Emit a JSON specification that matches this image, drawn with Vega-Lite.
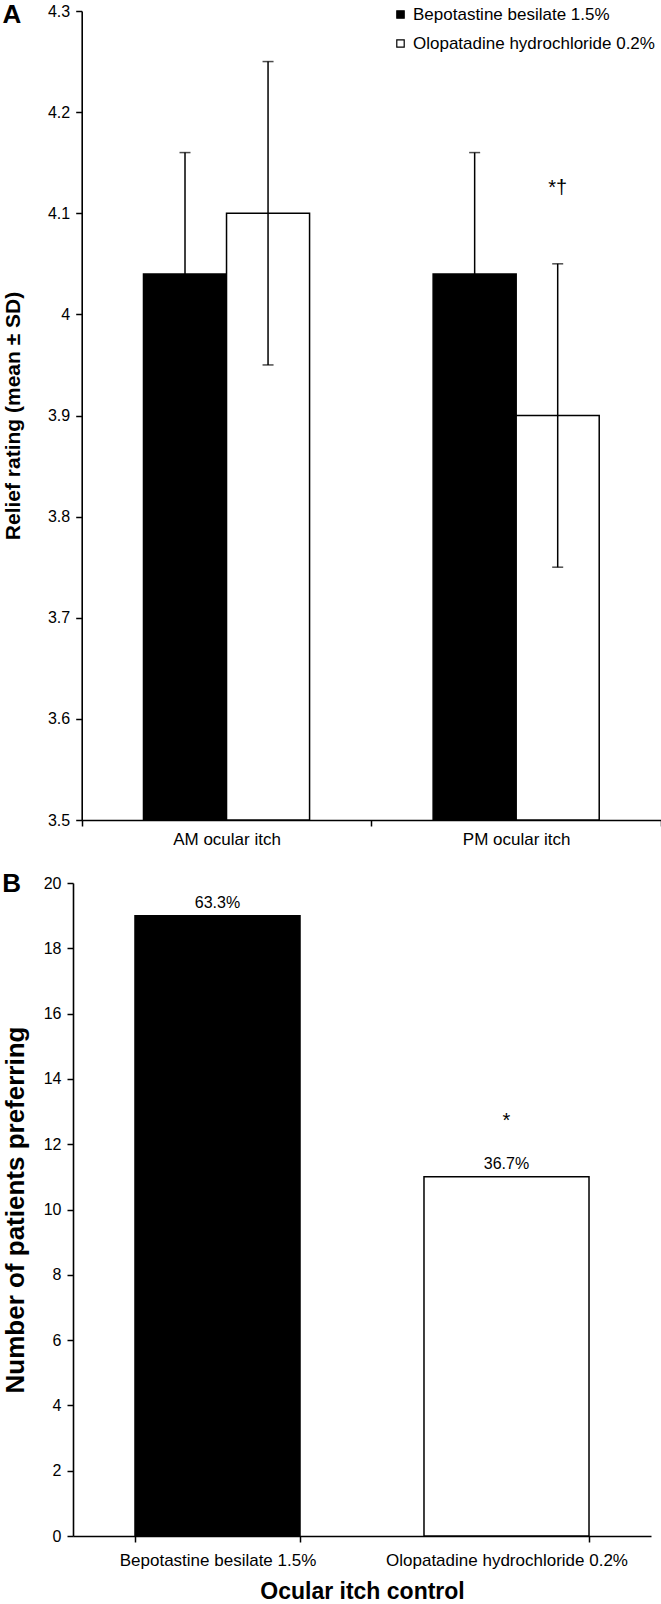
{
  "$schema": "https://vega.github.io/schema/vega-lite/v6.json",
  "padding": {"left": 2, "top": 2, "right": 0, "bottom": 0},
  "spacing": 24,
  "config": {
    "font": "Liberation Sans",
    "view": {"stroke": null},
    "axis": {
      "grid": false,
      "domainColor": "black",
      "domainWidth": 1.6,
      "tickColor": "black",
      "tickWidth": 1.5,
      "tickSize": 6,
      "labelColor": "black",
      "titleColor": "black",
      "labelFont": "Liberation Sans",
      "titleFont": "Liberation Sans",
      "labelFontSize": 16,
      "labelLimit": 0,
      "titleFontSize": 21,
      "titleFontWeight": "bold"
    },
    "title": {"fontSize": 26, "fontWeight": "bold", "anchor": "start", "frame": "bounds", "color": "black", "font": "Liberation Sans", "baseline": "alphabetic", "offset": 0}
  },
  "vconcat": [
    {
      "title": {"text": "A", "dy": 29},
      "width": 588,
      "height": 809,
      "data": {
        "values": [
          {"period": "AM ocular itch", "drug": "Bepotastine besilate 1.5%", "mean": 4.04, "lo": 3.92, "hi": 4.16},
          {"period": "AM ocular itch", "drug": "Olopatadine hydrochloride 0.2%", "mean": 4.10, "lo": 3.95, "hi": 4.25},
          {"period": "PM ocular itch", "drug": "Bepotastine besilate 1.5%", "mean": 4.04, "lo": 3.92, "hi": 4.16},
          {"period": "PM ocular itch", "drug": "Olopatadine hydrochloride 0.2%", "mean": 3.90, "lo": 3.75, "hi": 4.05, "note": "*†", "note_y": 4.125}
        ]
      },
      "encoding": {
        "x": {
          "field": "period", "type": "nominal",
          "sort": ["AM ocular itch", "PM ocular itch"],
          "scale": {"paddingInner": 0, "paddingOuter": 0, "rangeMin": 8.7},
          "axis": {"title": null, "labelAngle": 0, "tickBand": "extent", "labelPadding": 5, "labelFontSize": 17}
        },
        "xOffset": {
          "field": "drug", "type": "nominal",
          "sort": ["Bepotastine besilate 1.5%", "Olopatadine hydrochloride 0.2%"],
          "scale": {"paddingInner": 0, "paddingOuter": 0.744}
        }
      },
      "layer": [
        {
          "mark": {"type": "bar", "stroke": "black", "strokeWidth": 1.5},
          "encoding": {
            "y": {
              "field": "mean", "type": "quantitative",
              "scale": {"domain": [3.5, 4.3], "zero": false, "nice": false},
              "axis": {"title": "Relief rating (mean ± SD)", "values": [3.5, 3.6, 3.7, 3.8, 3.9, 4, 4.1, 4.2, 4.3], "format": "~g", "labelPadding": 6, "titlePadding": 24, "offset": -8.7}
            },
            "y2": {"datum": 3.5},
            "color": {
              "field": "drug", "type": "nominal",
              "scale": {"domain": ["Bepotastine besilate 1.5%", "Olopatadine hydrochloride 0.2%"], "range": ["black", "white"]},
              "legend": {
                "orient": "none", "legendX": 319, "legendY": -5, "title": null,
                "symbolType": "square", "symbolSize": 55, "symbolStrokeColor": "black", "symbolStrokeWidth": 1.2,
                "labelFontSize": 17, "labelFont": "Liberation Sans", "labelColor": "black", "labelOffset": 4, "rowPadding": 11, "labelLimit": 0
              }
            }
          }
        },
        {
          "mark": {"type": "rule", "color": "black", "strokeWidth": 1.5},
          "encoding": {"y": {"field": "lo", "type": "quantitative"}, "y2": {"field": "hi"}}
        },
        {
          "mark": {"type": "tick", "color": "black", "thickness": 1.5, "size": 11},
          "encoding": {"y": {"field": "hi", "type": "quantitative"}}
        },
        {
          "mark": {"type": "tick", "color": "black", "thickness": 1.5, "size": 11},
          "encoding": {"y": {"field": "lo", "type": "quantitative"}}
        },
        {
          "transform": [{"filter": "datum.note"}],
          "mark": {"type": "text", "fontSize": 20, "baseline": "middle", "color": "black"},
          "encoding": {"y": {"field": "note_y", "type": "quantitative"}, "text": {"field": "note"}}
        }
      ]
    },
    {
      "title": {"text": "B", "dy": 26},
      "width": 578,
      "height": 653,
      "data": {
        "values": [
          {"drug": "Bepotastine besilate 1.5%", "n": 19, "pct": "63.3%"},
          {"drug": "Olopatadine hydrochloride 0.2%", "n": 11, "pct": "36.7%", "star": "*", "star_y": 12.7}
        ]
      },
      "encoding": {
        "x": {
          "field": "drug", "type": "nominal",
          "sort": ["Bepotastine besilate 1.5%", "Olopatadine hydrochloride 0.2%"],
          "scale": {"paddingInner": 0.429, "paddingOuter": 0.2145},
          "axis": {"title": "Ocular itch control", "labelAngle": 0, "tickBand": "extent", "labelPadding": 10, "labelFontSize": 17, "titleFontSize": 23, "titlePadding": 12}
        }
      },
      "layer": [
        {
          "mark": {"type": "bar", "stroke": "black", "strokeWidth": 1.5},
          "encoding": {
            "y": {
              "field": "n", "type": "quantitative",
              "scale": {"domain": [0, 20], "nice": false},
              "axis": {"title": "Number of patients preferring", "values": [0, 2, 4, 6, 8, 10, 12, 14, 16, 18, 20], "labelPadding": 6, "titlePadding": 15, "titleFontSize": 26}
            },
            "color": {
              "field": "drug", "type": "nominal",
              "scale": {"domain": ["Bepotastine besilate 1.5%", "Olopatadine hydrochloride 0.2%"], "range": ["black", "white"]},
              "legend": null
            }
          }
        },
        {
          "mark": {"type": "text", "fontSize": 16, "baseline": "bottom", "dy": -5, "color": "black"},
          "encoding": {"y": {"field": "n", "type": "quantitative"}, "text": {"field": "pct"}}
        },
        {
          "transform": [{"filter": "datum.star"}],
          "mark": {"type": "text", "fontSize": 20, "baseline": "middle", "color": "black"},
          "encoding": {"y": {"field": "star_y", "type": "quantitative"}, "text": {"field": "star"}}
        }
      ]
    }
  ]
}
